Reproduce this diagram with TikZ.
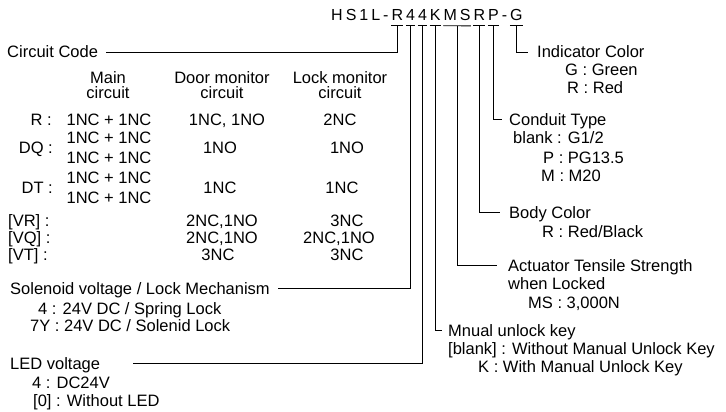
\documentclass[tikz,border=0pt]{standalone}
\usepackage{fontspec}
\setmainfont{Liberation Sans}
\usetikzlibrary{positioning, calc}

\begin{document}
\begin{tikzpicture}[
    x=1pt, y=-1pt,
    every node/.style={inner sep=0pt, font=\fontsize{16.5}{19}\selectfont},
    code/.style={inner xsep=1.3pt, font=\fontsize{16}{18}\selectfont},
    txt/.style={anchor=base west},
    col/.style={anchor=base},
    lead/.style={line width=0.9pt}
]
\useasboundingbox (0,0) rectangle (726,412);

% Order code
\node[code, anchor=base west] (cH) at (329.7,21) {H};
\node[code, base right=0pt of cH] (cS) {S};
\node[code, base right=0pt of cS] (c1) {1};
\node[code, base right=0pt of c1] (cL) {L};
\node[code, base right=0pt of cL] (cd1) {-};
\node[code, base right=0pt of cd1] (cR) {R};
\node[code, base right=0pt of cR] (cFa) {4};
\node[code, base right=0pt of cFa] (cFb) {4};
\node[code, base right=0pt of cFb] (cK) {K};
\node[code, base right=0pt of cK] (cM) {M};
\node[code, base right=0pt of cM] (cS2) {S};
\node[code, base right=0pt of cS2] (cR2) {R};
\node[code, base right=0pt of cR2] (cP) {P};
\node[code, base right=0pt of cP] (cd2) {-};
\node[code, base right=0pt of cd2] (cG) {G};

% Circuit code table
\node[txt] (cc) at (7,58) {Circuit Code};
\node[col] (hmain1) at (108,84) {Main};
\node[col] (hmain2) at (108,99) {circuit};
\node[col] (hdoor1) at (222,84) {Door monitor};
\node[col] (hdoor2) at (222,99) {circuit};
\node[col] (hlock1) at (340,84) {Lock monitor};
\node[col] (hlock2) at (340,99) {circuit};

\node[anchor=base east] (rR) at (52,125) {R :};
\node[col] (rRmain) at (109,125) {1NC + 1NC};
\node[col] (rRdoor) at (227,125) {1NC, 1NO};
\node[col] (rRlock) at (340,125) {2NC};

\node[anchor=base east] (rDQ) at (53,153) {DQ :};
\node[col] (rDQmain1) at (109,143) {1NC + 1NC};
\node[col] (rDQmain2) at (109,163) {1NC + 1NC};
\node[col] (rDQdoor) at (220,153) {1NO};
\node[col] (rDQlock) at (347,153) {1NO};

\node[anchor=base east] (rDT) at (53,193) {DT :};
\node[col] (rDTmain1) at (109,183) {1NC + 1NC};
\node[col] (rDTmain2) at (109,203) {1NC + 1NC};
\node[col] (rDTdoor) at (220,193) {1NC};
\node[col] (rDTlock) at (342,193) {1NC};

\node[txt] (rVR) at (8,226) {[VR] :};
\node[col] (rVRdoor) at (222,226) {2NC,1NO};
\node[col] (rVRlock) at (347,226) {3NC};
\node[txt] (rVQ) at (8,243) {[VQ] :};
\node[col] (rVQdoor) at (222,243) {2NC,1NO};
\node[col] (rVQlock) at (339,243) {2NC,1NO};
\node[txt] (rVT) at (8,260) {[VT] :};
\node[col] (rVTdoor) at (218,260) {3NC};
\node[col] (rVTlock) at (347,260) {3NC};

% Solenoid and LED
\node[txt] (sol) at (10,294) {Solenoid voltage / Lock Mechanism};
\node[txt] (sol4) at (38,314) {4 : 24V DC / Spring Lock};
\node[txt] (sol7) at (30,331) {7Y : 24V DC / Solenid Lock};
\node[txt] (led) at (10,369) {LED voltage};
\node[txt] (led4) at (32,388) {4 : DC24V};
\node[txt] (led0) at (33,406) {[0] : Without LED};

% Right hand options
\node[txt] (ind) at (537,58) {Indicator Color};
\node[txt] (indG) at (565,76) {G : Green};
\node[txt] (indR) at (567,94) {R : Red};
\node[txt] (cond) at (509,125) {Conduit Type};
\node[txt] (condb) at (513,143) {blank : G1/2};
\node[txt] (condP) at (543,163) {P : PG13.5};
\node[txt] (condM) at (541,181) {M : M20};
\node[txt] (body) at (509,218) {Body Color};
\node[txt] (bodyR) at (542,237) {R : Red/Black};
\node[txt] (act) at (508,271) {Actuator Tensile Strength};
\node[txt] (act2) at (508,289) {when Locked};
\node[txt] (actMS) at (528,308) {MS : 3,000N};
\node[txt] (key) at (448,336) {Mnual unlock key};
\node[txt] (keyb) at (448,354) {[blank] : Without Manual Unlock Key};
\node[txt] (keyK) at (478,372) {K : With Manual Unlock Key};

% Bars under the code
\foreach \n in {cR,cFa,cFb,cK,cR2,cP,cG}
  \draw[lead] ([xshift=1.3pt,yshift=-4.5pt]\n.south west) -- ([xshift=-1.3pt,yshift=-4.5pt]\n.south east);
\draw[lead] ([xshift=1.3pt,yshift=-4.5pt]cM.south west) -- ([xshift=-1.3pt,yshift=-4.5pt]cS2.south east);
\coordinate (ms) at ($([yshift=-4.5pt]cM.south west)!0.5!([yshift=-4.5pt]cS2.south east)$);

% Leads
\draw[lead] ([yshift=-4.5pt]cR.south) |- ([xshift=8pt,yshift=5.5pt]cc.base east);
\draw[lead] ([yshift=-4.5pt]cFa.south) |- ([xshift=8pt,yshift=5.5pt]sol.base east);
\draw[lead] ([yshift=-4.5pt]cFb.south) |- ([xshift=33pt,yshift=5.5pt]led.base east);
\draw[lead] ([yshift=-4.5pt]cK.south) |- ([xshift=-6pt,yshift=5.5pt]key.base west);
\draw[lead] (ms) |- ([xshift=-11pt,yshift=5.5pt]act.base west);
\draw[lead] ([yshift=-4.5pt]cR2.south) |- ([xshift=-9pt,yshift=5.5pt]body.base west);
\draw[lead] ([yshift=-4.5pt]cP.south) |- ([xshift=-7.5pt,yshift=5.5pt]cond.base west);
\draw[lead] ([yshift=-4.5pt]cG.south) |- ([xshift=-9pt,yshift=5.5pt]ind.base west);

\end{tikzpicture}
\end{document}
